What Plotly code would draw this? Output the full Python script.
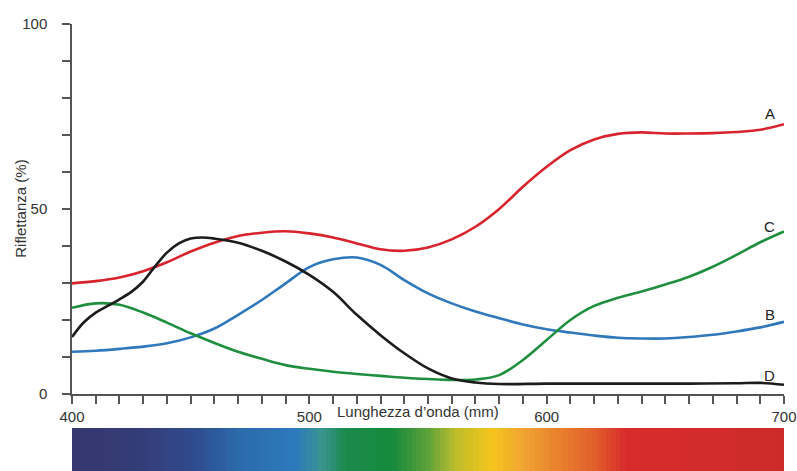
import plotly.graph_objects as go

# Wavelengths (nm)
wl = [400, 410, 420, 430, 440, 450, 460, 470, 480, 490, 500, 510, 520, 530, 540,
      550, 560, 570, 580, 590, 600, 610, 620, 630, 640, 650, 660, 670, 680, 690, 700]

A = [29.9, 30.5, 31.5, 33.2, 35.6, 38.5, 40.9, 42.7, 43.6, 44.0, 43.4, 42.3, 40.7, 39.1, 38.7,
     39.6, 41.8, 45.2, 50.0, 56.0, 61.4, 65.9, 68.8, 70.3, 70.7, 70.4, 70.4, 70.5, 70.8, 71.4, 72.9]
B = [11.4, 11.7, 12.2, 12.8, 13.7, 15.3, 17.7, 21.4, 25.4, 29.9, 34.3, 36.4, 36.9, 34.9, 30.8,
     27.2, 24.5, 22.3, 20.5, 18.8, 17.5, 16.6, 15.8, 15.2, 15.0, 15.0, 15.4, 16.0, 16.9, 18.0, 19.5]
C = [23.3, 24.5, 24.1, 22.0, 19.3, 16.4, 13.8, 11.4, 9.5, 7.8, 6.8, 6.0, 5.4, 4.9, 4.4,
     4.05, 3.8, 3.9, 5.1, 9.2, 14.6, 20.0, 23.8, 26.0, 27.7, 29.6, 31.7, 34.4, 37.6, 41.0, 43.9]
wl_d = [400, 405, 410, 415, 420, 425, 430, 435, 440, 445, 450, 455, 460, 470, 480, 490, 500, 510, 520,
        530, 540, 550, 560, 570, 580, 600, 620, 640, 660, 680, 690, 700]
D = [15.4, 19.4, 22.0, 23.8, 25.6, 27.6, 30.4, 34.5, 38.2, 40.7, 42.0, 42.3, 42.0, 40.9, 38.7, 35.8, 32.2,
     27.6, 21.4, 15.9, 11.0, 6.9, 4.2, 3.1, 2.7, 2.8, 2.8, 2.8, 2.8, 2.9, 3.0, 2.5]

series_names = ["A", "B", "C", "D"]
label_y = [75.9, 21.4, 45.4, 5.1]
colors = ["#d8232d", "#2f78bb", "#1f8f3f", "#1c1c1c"]

# Spectrum band
spec_wl = list(range(400, 701, 2))
spec_stops = [(400, "#36376f"), (430, "#343d78"), (450, "#2f4a8c"), (470, "#2b6aab"),
              (495, "#2d7bbb"), (505, "#3a9490"), (515, "#1a8a4c"), (535, "#168a3c"),
              (550, "#5fa23a"), (562, "#bfbd2a"), (577, "#f5c41c"), (590, "#f0a532"),
              (605, "#e9802d"), (620, "#e2602c"), (633, "#d82c2c"), (700, "#cd2b2b")]

fig = go.Figure()

fig.add_trace(go.Heatmap(
    x=spec_wl, y=[0], z=[spec_wl], xaxis="x2", yaxis="y2",
    colorscale=[[(w - 400) / 300, c] for w, c in spec_stops],
    zmin=400, zmax=700, showscale=False, hoverinfo="skip"))

for name, xs, ys, col in [("A", wl, A, colors[0]), ("B", wl, B, colors[1]),
                          ("C", wl, C, colors[2]), ("D", wl_d, D, colors[3])]:
    fig.add_trace(go.Scatter(x=xs, y=ys, mode="lines", name=name,
                             line=dict(color=col, width=2.6, shape="spline", smoothing=1.0)))

for name, ly in zip(series_names, label_y):
    fig.add_annotation(x=694, y=ly, text=name, showarrow=False, xref="x", yref="y",
                       xanchor="center", yanchor="middle",
                       font=dict(size=15, color="#222"))

fig.add_annotation(x=0.486, y=0.132, xref="paper", yref="paper", text="Lunghezza d’onda (mm)",
                   xanchor="center", yanchor="middle",
                   showarrow=False, font=dict(size=15, color="#333"))
fig.add_annotation(x=-0.072, y=50, xref="paper", yref="y", text="Riflettanza (%)", textangle=-90,
                   xanchor="center", yanchor="middle",
                   showarrow=False, font=dict(size=15, color="#333"))

ytickvals = list(range(0, 101, 10))
yticktext = [str(v) if v in (0, 50, 100) else "" for v in ytickvals]
xtickvals = list(range(400, 701, 10))
xticktext = [str(v) if v in (400, 500, 600, 700) else "" for v in xtickvals]

fig.update_layout(
    width=797, height=471,
    margin=dict(l=72, r=13, t=24, b=0, autoexpand=False),
    paper_bgcolor="white", plot_bgcolor="white",
    showlegend=False,
    font=dict(family="Liberation Sans, Arial, sans-serif", size=15, color="#333"),
    xaxis=dict(range=[400, 700], tickvals=xtickvals, ticktext=xticktext, automargin=False,
               showgrid=False, zeroline=False, showline=True, linecolor="#555", linewidth=1.5,
               ticks="outside", ticklen=8, tickwidth=1.5, tickcolor="#555",
               anchor="y", tickfont=dict(size=15, color="#333")),
    yaxis=dict(range=[0, 100], domain=[0.1723, 1], tickvals=ytickvals, ticktext=yticktext,
               automargin=False,
               showgrid=False, zeroline=False, showline=True, linecolor="#555", linewidth=1.5,
               ticks="outside", ticklen=8, tickwidth=1.5, tickcolor="#555",
               ticklabelstandoff=12, tickfont=dict(size=15, color="#333")),
    xaxis2=dict(range=[400, 700], anchor="y2", visible=False, showgrid=False, zeroline=False,
                automargin=False),
    yaxis2=dict(domain=[0, 0.0962], range=[-0.5, 0.5], visible=False, showgrid=False, zeroline=False,
                automargin=False),
)

fig.write_html("out.html")
